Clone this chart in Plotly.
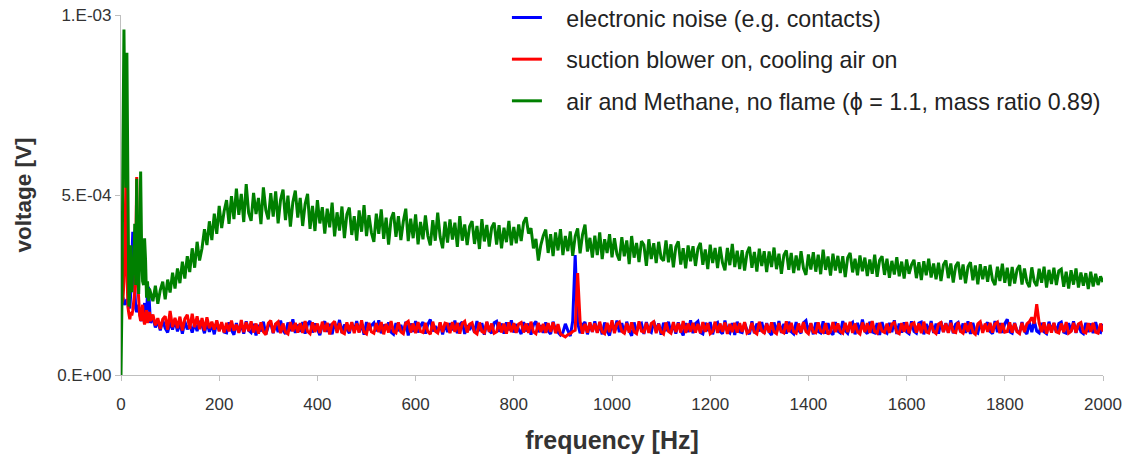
import plotly.graph_objects as go

# Spectra in microvolts (µV); converted to volts when plotted.
# Low-frequency part: 0..60 Hz in 2 Hz steps
freq_low = [0, 2, 4, 6, 8, 10, 12, 14, 16, 18, 20, 22, 24, 26, 28, 30,
            32, 34, 36, 38, 40, 42, 44, 46, 48, 50, 52, 54, 56, 58, 60]

noise_low = [190, 205, 215, 200, 195, 205, 210, 200, 190, 185, 230, 320, 398, 300, 210, 185,
             175, 195, 180, 170, 160, 150, 165, 175, 200, 150, 165, 230, 245, 170, 145]
blower_low = [195, 200, 210, 260, 370, 545, 300, 190, 170, 155, 175, 165, 180, 200, 230, 330,
              550, 260, 190, 165, 150, 175, 195, 155, 140, 160, 180, 145, 155, 175, 150]
methane_low = [0, 210, 640, 960, 690, 520, 895, 420, 190, 240, 360, 230, 300, 280, 420, 250,
               545, 300, 225, 330, 565, 350, 260, 250, 380, 320, 215, 260, 205, 240, 230]

# Remaining band: from 65 Hz upward in 5 Hz steps
FREQ_START, FREQ_STEP = 65, 5

noise_main = [
    158, 132, 150, 124, 152, 130, 118, 147, 126, 153,
    121, 145, 115, 149, 127, 140, 118, 144, 122, 150,
    138, 116, 147, 120, 141, 113, 148, 124, 143, 119,
    117, 146, 125, 112, 144, 120, 141, 115, 149, 124,
    118, 142, 110, 139, 121, 148, 113, 136, 145, 116,
    143, 119, 151, 124, 114, 146, 122, 155, 117, 140,
    120, 147, 115, 141, 150, 118, 143, 124, 111, 139,
    149, 120, 142, 113, 146, 123, 153, 117, 140, 128,
    116, 145, 122, 150, 119, 141, 112, 147, 125, 138,
    145, 121, 152, 116, 140, 127, 146, 119, 113, 144,
    122, 139, 117, 148, 110, 143, 120, 150, 118, 137,
    147, 115, 141, 154, 121, 136, 118, 145, 113, 142,
    119, 144, 124, 151, 116, 140, 147, 114, 138, 125,
    141, 118, 150, 122, 144, 112, 147, 123, 116, 145,
    149, 120, 143, 115, 146, 124, 152, 118, 141, 126,
    114, 147, 121, 143, 112, 140, 149, 119, 138, 117,
    146, 122, 114, 148, 125, 119, 111, 118, 142, 124,
    108, 150, 333, 145, 116, 139, 147, 113, 142, 120,
    149, 118, 141, 113, 146, 122, 110, 145, 121, 151,
    119, 144, 115, 148, 124, 109, 146, 120, 137, 143,
    114, 147, 123, 118, 150, 121, 143, 112, 145, 122,
    148, 117, 142, 115, 146, 124, 110, 144, 119, 152,
    116, 143, 149, 118, 114, 145, 122, 147, 113, 141,
    146, 121, 115, 151, 123, 117, 144, 111, 148, 120,
    118, 145, 124, 113, 149, 116, 143, 121, 147, 115,
    144, 120, 111, 146, 118, 150, 117, 142, 115, 148,
    120, 114, 147, 124, 116, 145, 151, 118, 143, 113,
    146, 121, 117, 149, 115, 144, 119, 112, 147, 122,
    117, 150, 123, 116, 140, 146, 113, 145, 119, 154,
    122, 115, 148, 120, 117, 144, 111, 147, 121, 116,
    145, 119, 152, 114, 143, 118, 146, 120, 115, 149,
    121, 116, 144, 147, 113, 142, 119, 150, 117, 143,
    115, 148, 120, 144, 118, 152, 116, 141, 146, 119,
    143, 117, 149, 114, 145, 120, 116, 147, 122, 138,
    146, 121, 115, 150, 119, 144, 117, 143, 155, 120,
    116, 145, 121, 118, 147, 122, 114, 146, 119, 151,
    122, 117, 145, 120, 115, 148, 121, 144, 118, 143,
    147, 119, 116, 144, 121, 149, 117, 143, 120, 115,
    145, 119, 143, 116, 147, 121, 118, 142,
]

blower_main = [
    168, 138, 158, 128, 155, 163, 126, 178, 133, 159,
    130, 162, 124, 156, 167, 128, 170, 133, 163, 127,
    158, 124, 160, 130, 148, 126, 152, 121, 147, 118,
    145, 121, 151, 123, 140, 117, 153, 119, 147, 122,
    149, 118, 143, 115, 146, 120, 112, 144, 151, 117,
    142, 148, 116, 143, 119, 114, 147, 121, 145, 118,
    144, 117, 150, 121, 115, 146, 119, 143, 116, 148,
    120, 145, 113, 142, 149, 117, 144, 119, 115, 146,
    121, 147, 116, 143, 118, 152, 119, 114, 145, 120,
    116, 144, 119, 147, 113, 142, 118, 150, 121, 117,
    146, 120, 115, 144, 149, 118, 143, 116, 147, 121,
    118, 145, 120, 113, 148, 122, 117, 146, 119, 144,
    142, 116, 147, 120, 145, 115, 143, 149, 118, 141,
    145, 119, 114, 146, 121, 117, 148, 120, 143, 116,
    120, 147, 118, 143, 115, 146, 119, 144, 117, 142,
    146, 118, 143, 117, 148, 120, 115, 145, 119, 142,
    117, 144, 120, 146, 116, 141, 114, 110, 106, 112,
    115, 121, 124, 283, 149, 115, 142, 118, 146, 120,
    143, 117, 148, 120, 115, 145, 119, 152, 116, 142,
    147, 121, 116, 144, 118, 146, 120, 115, 149, 122,
    119, 145, 117, 143, 148, 116, 142, 120, 114, 146,
    121, 116, 147, 119, 144, 118, 150, 117, 143, 120,
    145, 118, 142, 116, 147, 120, 144, 115, 121, 148,
    117, 143, 120, 146, 114, 142, 119, 145, 118, 144,
    120, 147, 116, 121, 145, 119, 114, 148, 122, 117,
    143, 118, 146, 120, 115, 144, 121, 117, 149, 119,
    145, 120, 116, 143, 118, 147, 121, 115, 144, 119,
    117, 146, 122, 118, 144, 113, 120, 147, 119, 143,
    121, 116, 145, 119, 148, 117, 143, 120, 114, 146,
    119, 144, 117, 150, 121, 116, 145, 122, 118, 143,
    117, 142, 146, 119, 115, 144, 120, 147, 116, 141,
    145, 118, 143, 116, 148, 120, 117, 144, 121, 115,
    142, 146, 119, 143, 117, 145, 120, 118, 147, 121,
    116, 144, 120, 146, 119, 113, 142, 148, 117, 143,
    120, 145, 118, 142, 147, 116, 144, 119, 121, 146,
    118, 143, 120, 115, 145, 119, 142, 148, 160, 143,
    197, 144, 119, 146, 115, 142, 118, 145, 120, 117,
    143, 119, 147, 116, 121, 145, 118, 142, 146, 120,
    117, 144, 120, 145, 119, 116, 143, 121,
]

methane_main = [
    205, 248, 198, 236, 259, 210, 265, 229, 284, 240,
    296, 255, 315, 268, 330, 286, 352, 298, 370, 318,
    352, 405, 361, 427, 375, 448, 392, 470, 408, 455,
    486, 420, 497, 433, 518, 445, 503, 425, 530, 450,
    428, 506, 447, 492, 419, 521, 458, 432, 505, 440,
    510, 421, 487, 515, 430, 498, 412, 480, 512, 437,
    492, 414, 475, 503, 406, 470, 400, 486, 421, 466,
    393, 462, 410, 479, 385, 452, 401, 468, 380, 446,
    465, 389, 441, 373, 457, 398, 472, 386, 444, 395,
    370, 448, 392, 460, 378, 437, 362, 433, 452, 384,
    441, 375, 427, 462, 372, 434, 380, 446, 363, 425,
    377, 443, 386, 360, 430, 373, 451, 383, 352, 426,
    368, 432, 376, 423, 356, 441, 373, 418, 361, 413,
    427, 364, 414, 350, 433, 371, 417, 357, 410, 423,
    362, 416, 352, 409, 369, 428, 360, 411, 366, 418,
    372, 424, 438, 393, 408, 352, 378, 318, 361, 387,
    404, 339, 391, 330, 396, 346, 405, 333, 386, 344,
    399, 331, 385, 407, 338, 390, 418, 343, 381, 326,
    387, 333, 396, 322, 377, 339, 391, 327, 380, 336,
    318, 383, 330, 374, 308, 386, 326, 367, 314, 372,
    361, 303, 377, 322, 366, 311, 370, 325, 317, 374,
    313, 363, 299, 356, 371, 307, 352, 296, 360, 316,
    358, 303, 351, 367, 306, 349, 294, 362, 311, 353,
    297, 356, 312, 291, 353, 305, 364, 300, 345, 294,
    347, 290, 339, 356, 298, 342, 287, 351, 303, 344,
    286, 343, 300, 354, 294, 337, 281, 333, 346, 292,
    339, 283, 332, 291, 344, 296, 278, 335, 293, 341,
    287, 334, 280, 348, 292, 329, 276, 337, 290, 331,
    283, 330, 272, 326, 339, 285, 323, 277, 332, 288,
    326, 275, 321, 281, 334, 273, 319, 330, 278, 323,
    270, 317, 279, 327, 274, 315, 268, 321, 281, 306,
    320, 269, 313, 264, 316, 277, 323, 271, 310, 266,
    312, 261, 306, 318, 269, 310, 257, 303, 314, 265,
    307, 255, 301, 313, 263, 304, 252, 308, 266, 302,
    259, 306, 264, 250, 301, 261, 309, 256, 298, 247,
    300, 254, 293, 305, 251, 296, 258, 244, 299, 260,
    247, 295, 256, 301, 243, 292, 253, 298, 250, 289,
    294, 245, 287, 240, 291, 251, 296, 243, 285, 248,
    283, 239, 287, 246, 281, 250, 274, 258,
]

series_names = [
    "electronic noise (e.g. contacts)",
    "suction blower on, cooling air on",
    "air and Methane, no flame (\u03d5 = 1.1, mass ratio 0.89)",
]
series_colors = ["#0000ff", "#ff0000", "#008000"]

x_ticks = [0, 200, 400, 600, 800, 1000, 1200, 1400, 1600, 1800, 2000]
y_ticks = [0, 5e-4, 1e-3]
y_tick_text = ["0.E+00", "5.E-04", "1.E-03"]

UV = 1e-6  # microvolt -> volt


def spectrum(low, main):
    freq = freq_low + [FREQ_START + FREQ_STEP * i for i in range(len(main))]
    volts = [v * UV for v in low + main]
    return freq, volts


fig = go.Figure()
for name, color, low, main in zip(series_names, series_colors,
                                  [noise_low, blower_low, methane_low],
                                  [noise_main, blower_main, methane_main]):
    fx, fy = spectrum(low, main)
    fig.add_trace(go.Scatter(
        x=fx, y=fy, mode="lines", name="\u00a0\u00a0\u00a0" + name,
        legendgroup=name,
        line=dict(color=color, width=3), cliponaxis=False,
    ))

font_family = "Arial, Liberation Sans, sans-serif"
fig.update_layout(
    width=1128, height=463,
    margin=dict(l=121, r=25, t=15, b=88, autoexpand=False),
    paper_bgcolor="white", plot_bgcolor="white",
    font=dict(family=font_family, color="#333333", size=17),
    legend=dict(
        x=0.393, xref="paper", y=1.053, yref="paper",
        xanchor="left", yanchor="top",
        bgcolor="rgba(0,0,0,0)", borderwidth=0,
        font=dict(size=23.2, color="#222222"),
        tracegroupgap=8.5, itemwidth=30,
    ),
    showlegend=True,
)
fig.update_xaxes(
    range=[0, 2000], tickvals=x_ticks, ticks="outside", ticklen=5,
    tickcolor="#bfbfbf", showline=True, linecolor="#bfbfbf", linewidth=1.2,
    showgrid=False, zeroline=False, tickfont=dict(size=17, color="#333333"),
    ticklabelstandoff=8,
    title=dict(text="<b>frequency [Hz]</b>", font=dict(size=25, color="#333333"), standoff=18),
)
fig.update_yaxes(
    range=[0, 1e-3], tickvals=y_ticks, ticktext=y_tick_text, ticks="outside",
    ticklen=5, tickcolor="#bfbfbf", showline=True, linecolor="#bfbfbf", linewidth=1.2,
    showgrid=False, zeroline=False, tickfont=dict(size=17, color="#333333"),
    title=dict(text="<b>voltage [V]</b>", font=dict(size=22.5, color="#333333"), standoff=19),
)

fig.write_html("out.html")
